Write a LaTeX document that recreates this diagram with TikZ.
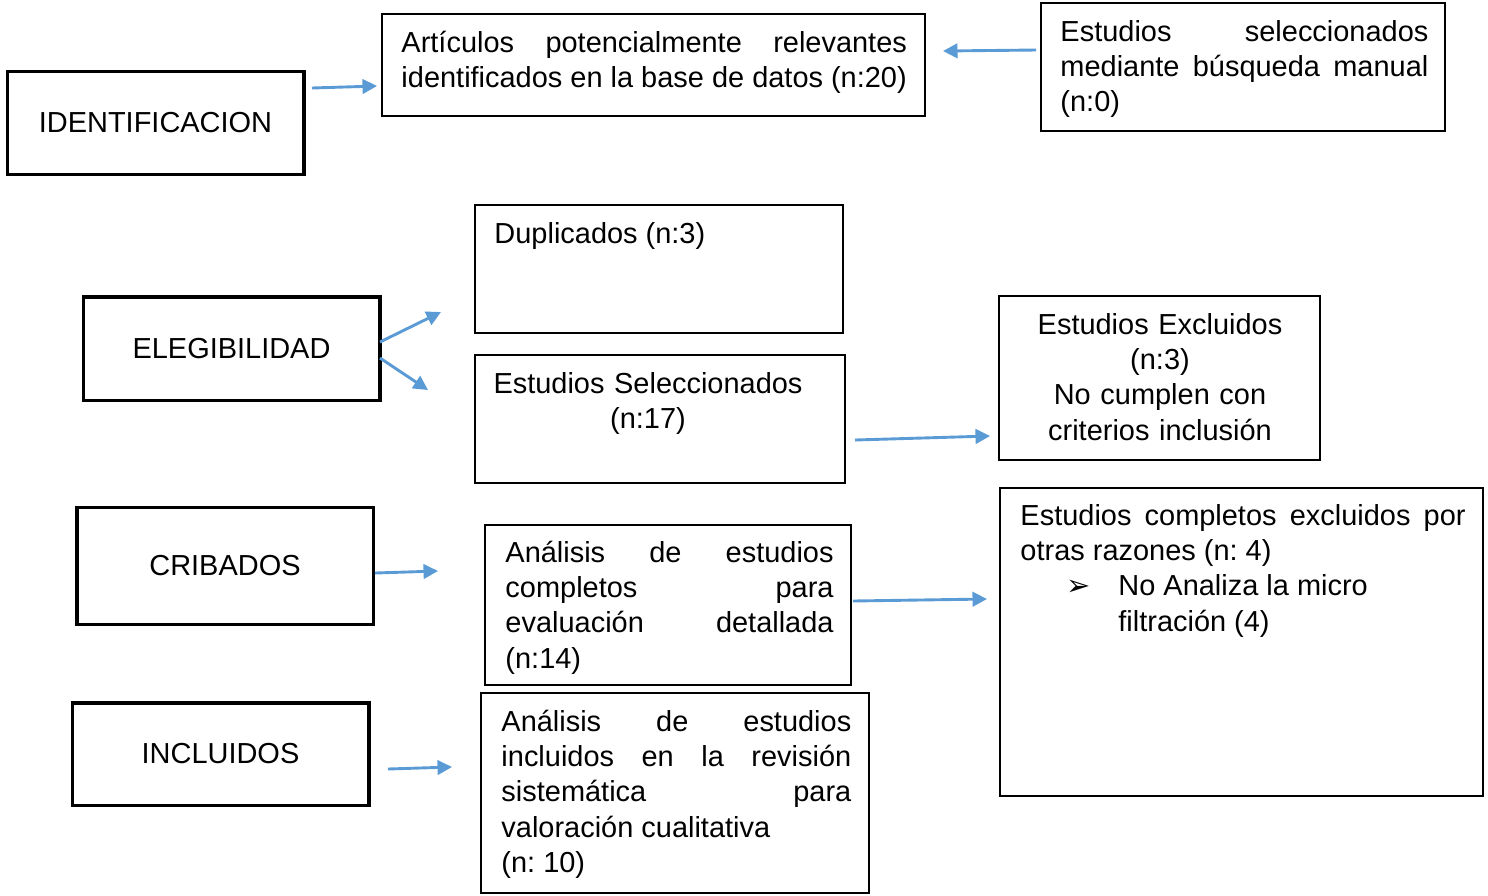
\documentclass[tikz,border=0pt]{standalone}
\usepackage{fontspec}
\setmainfont{Liberation Sans}
\newfontfamily\simbolos{DejaVu Sans}
\usetikzlibrary{arrows.meta}
\definecolor{azulflecha}{HTML}{5B9BD5}

\begin{document}
\begin{tikzpicture}[x=.4145pt,y=-.4145pt,
    font=\fontsize{12}{14.7}\selectfont\frenchspacing,
    etapa/.style={draw,line width=1.25pt,minimum width=123.1pt,minimum height=42.3pt,inner sep=0pt},
    caja/.style={draw,line width=.6pt,inner sep=0pt},
    texto/.style={anchor=base west,inner sep=0pt},
    flecha/.style={draw=azulflecha,line width=1.2pt,-{Triangle[length=6pt,width=6pt]}}]
    \useasboundingbox (0,0) rectangle (1488,895);

    %% etapas
    \node (ident) at (155.5,123) [etapa] {IDENTIFICACION};
    \node (eleg) at (231.5,348.5) [etapa,minimum height=42.7pt] {ELEGIBILIDAD};
    \node (crib) at (225,565.5) [etapa,minimum width=122.7pt,minimum height=48.5pt] {CRIBADOS};
    \node (incl) at (220.5,754) [etapa] {INCLUIDOS};

    %% cajas
    \node (art) at (653.5,65) [caja,minimum width=225.1pt,minimum height=42.3pt] {};
    \node (man) at (1243,67) [caja,minimum width=167.5pt,minimum height=53.1pt] {};
    \node (dup) at (659,269) [caja,minimum width=152.5pt,minimum height=53.1pt] {};
    \node (sel) at (660,419) [caja,minimum width=153.4pt,minimum height=53.1pt] {};
    \node (excl) at (1159.5,378) [caja,minimum width=133.1pt,minimum height=68pt] {};
    \node (comp) at (1241.5,642) [caja,minimum width=200.2pt,minimum height=127.7pt] {};
    \node (anal) at (668,605) [caja,minimum width=151.7pt,minimum height=66.3pt] {};
    \node (inc2) at (675,793) [caja,minimum width=160.8pt,minimum height=82.9pt] {};

    %% textos
    \node (artT) at (401,52) [texto,text width=209.5pt,align=justify]
        {Artículos potencialmente relevantes\linebreak identificados en la base de datos (n:20)};
    \node (manT) at (1060,41) [texto,text width=152.5pt,align=justify]
        {Estudios seleccionados\linebreak mediante búsqueda manual\linebreak (n:0)};
    \node (dupT) at (494,243) [texto] {Duplicados (n:3)};
    \node (selT) at (648,393) [texto,anchor=base,text width=160pt,align=center]
        {Estudios Seleccionados\\(n:17)};
    \node (exclT) at (1160,334) [texto,anchor=base,text width=130pt,align=center]
        {Estudios Excluidos\\(n:3)\\No cumplen con\\criterios inclusión};
    \node (compT) at (1020,525) [texto,text width=184.5pt,align=justify]
        {Estudios completos excluidos por\linebreak otras razones (n: 4)\par
        \hspace*{40.6pt}\llap{\simbolos ➢\hspace{11.6pt}}\parbox[t]{143pt}{No Analiza la micro\newline filtración (4)}};
    \node (analT) at (505,562) [texto,text width=136pt,align=justify]
        {Análisis de estudios\linebreak completos para\linebreak evaluación detallada\linebreak (n:14)};
    \node (inc2T) at (501,731) [texto,text width=145pt,align=justify]
        {Análisis de estudios\linebreak incluidos en la revisión\linebreak sistemática para\linebreak valoración cualitativa\newline (n: 10)};

    %% flechas
    \coordinate (f1a) at (312,88);   \coordinate (f1b) at (377,86);
    \coordinate (f2a) at (1036,50);  \coordinate (f2b) at (943,51);
    \coordinate (f3a) at (380,342);  \coordinate (f3b) at (441,312);
    \coordinate (f4a) at (380,358);  \coordinate (f4b) at (428,390);
    \coordinate (f5a) at (855,440);  \coordinate (f5b) at (990,436);
    \coordinate (f6a) at (375,573);  \coordinate (f6b) at (438,571);
    \coordinate (f7a) at (853,601);  \coordinate (f7b) at (987,599);
    \coordinate (f8a) at (388,769);  \coordinate (f8b) at (452,767);
    \draw[flecha] (f1a) -- (f1b);
    \draw[flecha] (f2a) -- (f2b);
    \draw[flecha] (f3a) -- (f3b);
    \draw[flecha] (f4a) -- (f4b);
    \draw[flecha] (f5a) -- (f5b);
    \draw[flecha] (f6a) -- (f6b);
    \draw[flecha] (f7a) -- (f7b);
    \draw[flecha] (f8a) -- (f8b);
\end{tikzpicture}
\end{document}
